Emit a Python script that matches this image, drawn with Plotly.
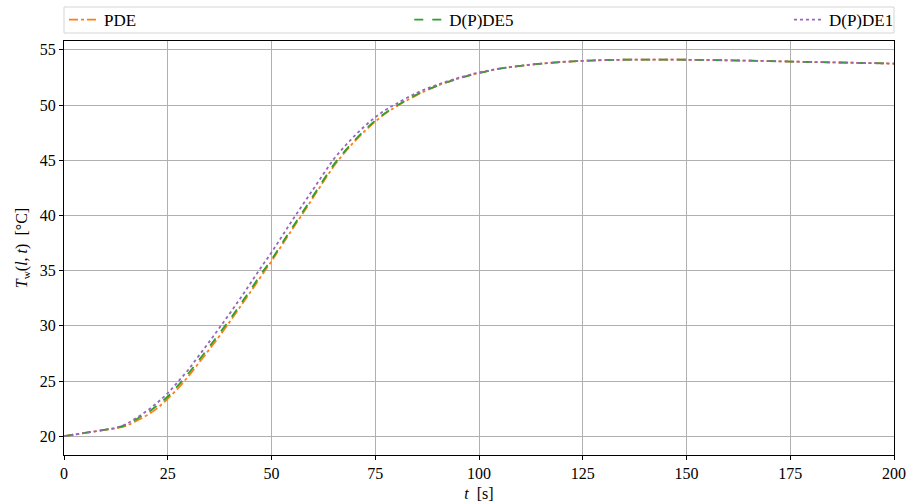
import plotly.graph_objects as go

t = [0, 5, 10, 13, 15, 17, 20, 22.5, 25, 27.5, 30, 32.5, 35, 37.5, 40, 42.5, 45, 47.5, 50,
     52.5, 55, 57.5, 60, 62.5, 65, 67.5, 70, 72.5, 75, 77.5, 80, 85, 90, 95, 100, 105, 110,
     115, 120, 125, 130, 140, 150, 160, 170, 180, 190, 200]

pde = [20.0, 20.3, 20.58, 20.75, 20.95, 21.3, 21.9, 22.55, 23.4, 24.35, 25.45, 26.65, 27.85,
       29.1, 30.4, 31.75, 33.1, 34.5, 35.85, 37.3, 38.75, 40.15, 41.6, 43.05, 44.45, 45.65,
       46.7, 47.65, 48.5, 49.25, 49.85, 50.9, 51.75, 52.4, 52.9, 53.3, 53.55, 53.75, 53.9,
       54.0, 54.07, 54.12, 54.1, 54.05, 53.98, 53.9, 53.83, 53.75]

dde5 = [20.0, 20.3, 20.6, 20.8, 21.05, 21.45, 22.1, 22.8, 23.6, 24.6, 25.7, 26.9, 28.1, 29.35,
        30.6, 31.95, 33.3, 34.7, 36.0, 37.45, 38.9, 40.3, 41.75, 43.2, 44.6, 45.75, 46.8,
        47.75, 48.6, 49.3, 49.9, 50.95, 51.75, 52.4, 52.9, 53.3, 53.55, 53.75, 53.9, 54.0,
        54.07, 54.12, 54.1, 54.05, 53.98, 53.9, 53.83, 53.75]

dde1 = [20.0, 20.3, 20.6, 20.82, 21.1, 21.55, 22.3, 23.05, 23.9, 24.95, 26.05, 27.3, 28.55,
        29.85, 31.15, 32.5, 33.9, 35.3, 36.65, 38.1, 39.55, 40.95, 42.35, 43.75, 45.1, 46.2,
        47.2, 48.1, 48.9, 49.55, 50.1, 51.1, 51.85, 52.45, 52.95, 53.3, 53.55, 53.75, 53.9,
        54.0, 54.07, 54.12, 54.1, 54.05, 53.98, 53.9, 53.83, 53.75]

x_ticks = [0, 25, 50, 75, 100, 125, 150, 175, 200]
y_ticks = [20, 25, 30, 35, 40, 45, 50, 55]

FONT = "Liberation Serif"

fig = go.Figure()
fig.add_trace(go.Scatter(x=t, y=pde, mode="lines", name="PDE", legend="legend",
                         line=dict(color="#ff7f0e", dash="dashdot", width=1.8, shape="spline")))
fig.add_trace(go.Scatter(x=t, y=dde5, mode="lines", name="D(P)DE5", legend="legend2",
                         line=dict(color="#2ca02c", dash="dash", width=1.8, shape="spline")))
fig.add_trace(go.Scatter(x=t, y=dde1, mode="lines", name="D(P)DE1", legend="legend3",
                         line=dict(color="#9467bd", dash="dot", width=1.8, shape="spline")))

leg_common = dict(yref="container", y=0.9602, yanchor="middle", bgcolor="rgba(0,0,0,0)",
                  borderwidth=0, font=dict(family=FONT, size=17, color="black"))

fig.update_layout(
    width=908, height=503,
    showlegend=True,
    margin=dict(l=64, r=14, t=41, b=48, autoexpand=False),
    paper_bgcolor="white", plot_bgcolor="white",
    font=dict(family=FONT, size=16, color="black"),
    legend=dict(x=0.0, xanchor="left", **leg_common),
    legend2=dict(x=0.416, xanchor="left", **leg_common),
    legend3=dict(x=1.006, xanchor="right", **leg_common),
    xaxis=dict(range=[0, 200], tickvals=x_ticks, showgrid=True, gridcolor="#b0b0b0",
               gridwidth=1, showline=True, linecolor="black", linewidth=1.2, mirror=True,
               ticks="outside", ticklen=4, tickcolor="black", zeroline=False, automargin=False,
               tickfont=dict(size=16),
               title=dict(text="<i>t</i>  [s]", standoff=6, font=dict(size=16))),
    yaxis=dict(range=[18.3, 55.8], tickvals=y_ticks, showgrid=True, gridcolor="#b0b0b0",
               gridwidth=1, showline=True, linecolor="black", linewidth=1.2, mirror=True,
               ticks="outside", ticklen=4, tickcolor="black", zeroline=False, automargin=False,
               tickfont=dict(size=16),
               title=dict(text="<i>T</i><sub>w</sub>(<i>l</i>, <i>t</i>)  [°C]", standoff=8,
                          font=dict(size=16))),
    shapes=[dict(type="rect", xref="paper", yref="paper", x0=0, x1=1.0,
                 y0=1.0193, y1=1.0821, line=dict(color="#d5d5d5", width=1),
                 fillcolor="rgba(0,0,0,0)", layer="below")],
)

fig.write_html("out.html")
